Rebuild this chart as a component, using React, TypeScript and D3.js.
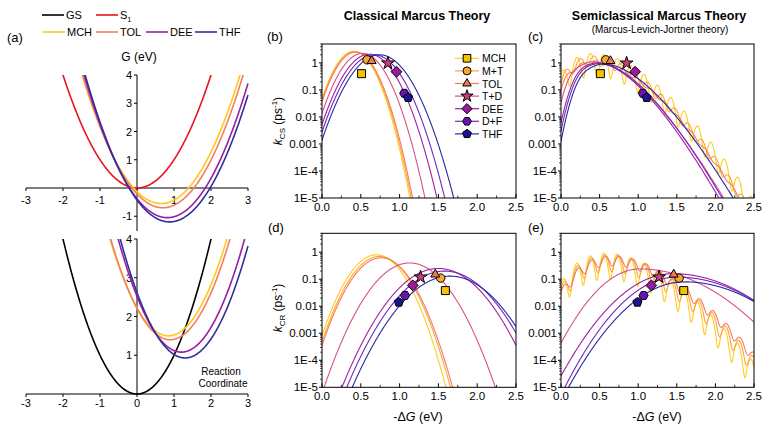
import React from 'react';
import * as d3 from 'd3';

const FONT = 'Arial, "Liberation Sans", Helvetica, sans-serif';

// ---- series shared by panels (b)-(e)
const solvents = ['MCH', 'M+T', 'TOL', 'T+D', 'DEE', 'D+F', 'THF'];
const lineColors = ['#FFCC22', '#FFA43A', '#F47C5C', '#D9508C', '#A0209E', '#7028C0', '#2828A0'];
const markerFills = ['#F5C400', '#F8A830', '#F07A50', '#C8407A', '#9B1AA0', '#6A14B0', '#1A1490'];
const markerShapes = ['square', 'circle', 'triangle', 'star', 'diamond', 'hexagon', 'pentagon'];

// experimental rates (-dG in eV, k in ps^-1)
const csX = [0.51, 0.58, 0.64, 0.85, 0.96, 1.06, 1.11];
const csK = [0.40, 1.30, 1.18, 0.98, 0.47, 0.075, 0.052];
const crX = [1.59, 1.53, 1.46, 1.27, 1.17, 1.07, 0.99];
const crK = [0.038, 0.11, 0.15, 0.12, 0.059, 0.025, 0.014];

// classical Marcus: reorganisation energy and peak rate
const kT = 0.0254;
const csLambda = [0.41, 0.42, 0.43, 0.52, 0.61, 0.67, 0.74];
const csPeak = [2.7, 2.6, 2.5, 2.25, 2.1, 2.0, 2.0];
const crLambda = [0.70, 0.74, 0.76, 1.13, 1.50, 1.58, 1.65];
const crPeak = [0.80, 0.70, 0.62, 0.40, 0.25, 0.20, 0.13];

// semiclassical (MLJ) CS: solvent lambda, gaussian width, Huang-Rhys S, peak rate
const hw = 0.173;
const mljCsLambda = [0.035, 0.08, 0.11, 0.21, 0.30, 0.32, 0.34];
const mljCsSigma = [0.038, 0.05, 0.065, 0.09, 0.10, 0.10, 0.10];
const mljCsS = [2.8, 2.5, 2.4, 1.7, 1.4, 1.45, 1.7];
const mljCsPeak = [2.2, 1.8, 1.2, 1.1, 1.0, 0.95, 0.9];

// semiclassical CR, vibronic curves (MCH, M+T, TOL)
const mljCrLambda = [0.035, 0.05, 0.06];
const mljCrSigma = [0.036, 0.042, 0.05];
const mljCrS = [3.7, 3.85, 4.0];
const mljCrPeak = [0.9, 0.8, 0.7];
// semiclassical CR, smooth curves (T+D, DEE, D+F, THF): peak position, peak rate, log-curvature left/right
const smoothCrX0 = [1.02, 1.45, 1.50, 1.60];
const smoothCrPeak = [0.24, 0.16, 0.12, 0.08];
const smoothCrWL = [2.64, 1.8, 1.94, 1.73];
const smoothCrWR = [0.9, 0.9, 0.87, 0.9];

const xTicks = [0, 0.5, 1.0, 1.5, 2.0, 2.5];
const yTicks = [1e-5, 1e-4, 1e-3, 1e-2, 1e-1, 1];
const yTickLabels = ['1E-5', '1E-4', '0.001', '0.01', '0.1', '1'];

// ---- panel (a)
const pesNames = ['MCH', 'TOL', 'DEE', 'THF'];
const pesColors = ['#FFC820', '#F47E60', '#9A1FA0', '#3030A0'];
const csMinX = [0.65, 0.70, 0.82, 0.88];
const csMinG = [-0.55, -0.70, -1.05, -1.20];
const crMinX = [0.85, 0.90, 1.20, 1.30];
const crMinG = [1.50, 1.40, 1.08, 0.93];
const pesTicksX = [-3, -2, -1, 0, 1, 2, 3];

const gridX = d3.range(0, 2.5001, 0.002);

function band(lam: number, sig: number, S: number) {
  return (x: number) => {
    let p = Math.exp(-S);
    let sum = 0;
    for (let n = 0; n < 40; n++) {
      const d = lam + n * hw - x;
      sum += p * Math.exp(-(d * d) / (2 * sig * sig));
      p *= S / (n + 1);
    }
    return sum;
  };
}

function rateCurve(lam: number, sig: number, S: number, peak: number): [number, number][] {
  const f = band(lam, sig, S);
  const ys = gridX.map(f);
  const m = d3.max(ys) as number;
  return gridX.map((x, i) => [x, Math.max((peak * ys[i]) / m, 1e-8)]);
}

function smoothCurve(x0: number, peak: number, wl: number, wr: number): [number, number][] {
  return gridX.map((x) => {
    const w = x < x0 ? wl : wr;
    return [x, Math.max(peak * Math.pow(10, -w * (x - x0) * (x - x0)), 1e-8)];
  });
}

function polygon(n: number, r: number, rot: number) {
  const pts = d3.range(n).map((i) => {
    const a = ((rot + (i * 360) / n) * Math.PI) / 180;
    return [r * Math.cos(a), r * Math.sin(a)] as [number, number];
  });
  return d3.line()(pts) + 'Z';
}

function symbolPath(shape: string, r: number) {
  switch (shape) {
    case 'square':
      return `M${-r},${-r}H${r}V${r}H${-r}Z`;
    case 'circle':
      return d3.symbol(d3.symbolCircle, Math.PI * r * r * 1.1)() as string;
    case 'triangle':
      return polygon(3, r * 1.3, -90);
    case 'star':
      return d3.symbol(d3.symbolStar, r * r * 3.2)() as string;
    case 'diamond':
      return polygon(4, r * 1.35, -90);
    case 'hexagon':
      return polygon(6, r * 1.15, 0);
    default:
      return polygon(5, r * 1.2, -90);
  }
}

interface Curve {
  pts: [number, number][];
  color: string;
}

interface RateProps {
  left: number;
  right: number;
  top: number;
  bottom: number;
  curves: Curve[];
  px: number[];
  pk: number[];
  id: string;
  legend?: boolean;
}

function RatePanel({ left, right, top, bottom, curves, px, pk, id, legend }: RateProps) {
  const x = d3.scaleLinear().domain([0, 2.5]).range([left, right]);
  const y = d3.scaleLog().domain([1e-5, 5]).range([bottom, top]);
  const line = d3
    .line<[number, number]>()
    .x((d) => x(d[0]))
    .y((d) => Math.min(y(d[1]), bottom + 40));
  const minorY: number[] = [];
  yTicks.forEach((d) => {
    for (let m = 2; m <= 9; m++) if (d * m <= 5) minorY.push(d * m);
  });
  const minorX = d3.range(0.25, 2.5, 0.5);
  return (
    <g fontFamily={FONT}>
      <defs>
        <clipPath id={id}>
          <rect x={left} y={top} width={right - left} height={bottom - top} />
        </clipPath>
      </defs>
      <g clipPath={`url(#${id})`}>
        {curves.map((c, i) => (
          <path key={i} d={line(c.pts) as string} fill="none" stroke={c.color} strokeWidth={1.1} />
        ))}
      </g>
      <rect x={left} y={top} width={right - left} height={bottom - top} fill="none" stroke="#000" strokeWidth={1} />
      {yTicks.map((t, i) => (
        <g key={t}>
          <line x1={left - 3} x2={left} y1={y(t)} y2={y(t)} stroke="#000" />
          <text x={left - 4} y={y(t) + 4} textAnchor="end" fontSize={11.5}>
            {yTickLabels[i]}
          </text>
        </g>
      ))}
      {minorY.map((t) => (
        <line key={t} x1={left - 1.8} x2={left} y1={y(t)} y2={y(t)} stroke="#000" strokeWidth={0.8} />
      ))}
      {xTicks.map((t) => (
        <g key={t}>
          <line x1={x(t)} x2={x(t)} y1={bottom} y2={bottom - 4} stroke="#000" />
          <text x={x(t)} y={bottom + 13} textAnchor="middle" fontSize={11.5}>
            {t.toFixed(1)}
          </text>
        </g>
      ))}
      {minorX.map((t) => (
        <line key={t} x1={x(t)} x2={x(t)} y1={bottom} y2={bottom - 2.5} stroke="#000" strokeWidth={0.8} />
      ))}
      {px.map((v, i) => (
        <path
          key={i}
          transform={`translate(${x(v)},${y(pk[i])})`}
          d={symbolPath(markerShapes[i], 4)}
          fill={markerFills[i]}
          stroke="#000"
          strokeWidth={1}
        />
      ))}
      {legend &&
        solvents.map((s, i) => {
          const ly = 58.3 + i * 12.6;
          return (
            <g key={s}>
              <line x1={455} x2={479} y1={ly} y2={ly} stroke={lineColors[i]} strokeWidth={1.2} />
              <path transform={`translate(467,${ly})`} d={symbolPath(markerShapes[i], 3.8)} fill={markerFills[i]} stroke="#000" />
              <text x={482} y={ly + 4} fontSize={10.5}>
                {s}
              </text>
            </g>
          );
        })}
    </g>
  );
}

function PesPanel() {
  const x = d3.scaleLinear().domain([-3, 3]).range([26, 248]);
  const yT = d3.scaleLinear().domain([0, 4]).range([188, 75]);
  const yB = d3.scaleLinear().domain([0, 4]).range([394, 239]);
  const gx = d3.range(-3, 3.0001, 0.01);
  const para = (d: number, m: number) => gx.map((v) => [v, (v - d) * (v - d) + m] as [number, number]);
  const lineT = d3.line<[number, number]>().x((d) => x(d[0])).y((d) => yT(Math.min(d[1], 4.3)));
  const lineB = d3.line<[number, number]>().x((d) => x(d[0])).y((d) => yB(Math.min(d[1], 4.3)));
  const legendRows = [
    { name: 'GS', color: '#000', x: 42, y: 15 },
    { name: 'S', color: '#E8141C', x: 96, y: 15, sub: '1' },
    ...pesNames.map((n, i) => ({ name: n, color: pesColors[i], x: [43, 96, 146, 195][i], y: 32 })),
  ];
  return (
    <g fontFamily={FONT}>
      <defs>
        <clipPath id="clipA1">
          <rect x={20} y={75} width={235} height={160} />
        </clipPath>
        <clipPath id="clipA2">
          <rect x={20} y={239} width={235} height={160} />
        </clipPath>
      </defs>
      {legendRows.map((r) => (
        <g key={r.name}>
          <line x1={r.x} x2={r.x + 22} y1={r.y} y2={r.y} stroke={r.color} strokeWidth={1.6} />
          <text x={r.x + 24} y={r.y + 4} fontSize={11}>
            {r.name}
            {r.sub && (
              <tspan fontSize={7.5} dy={3}>
                {r.sub}
              </tspan>
            )}
          </text>
        </g>
      ))}
      <text x={7} y={42} fontSize={13}>
        (a)
      </text>
      <text x={139} y={61} fontSize={12} textAnchor="middle">
        G (eV)
      </text>
      {/* top: S1 and CS states */}
      <line x1={x(-3)} x2={x(3)} y1={yT(0)} y2={yT(0)} stroke="#000" />
      <line x1={x(0)} x2={x(0)} y1={yT(4)} y2={yT(-1.52)} stroke="#000" />
      {pesTicksX.map((t) => (
        <g key={t}>
          <line x1={x(t)} x2={x(t)} y1={yT(0)} y2={yT(0) + 3} stroke="#000" />
          {t !== 0 && (
            <text x={x(t)} y={204} textAnchor="middle" fontSize={11}>
              {t}
            </text>
          )}
        </g>
      ))}
      {[4, 3, 2, 1, -1].map((t) => (
        <g key={t}>
          <line x1={x(0) - 3} x2={x(0)} y1={yT(t)} y2={yT(t)} stroke="#000" />
          <text x={x(0) - 5} y={yT(t) + 4} textAnchor="end" fontSize={11}>
            {t}
          </text>
        </g>
      ))}
      <g clipPath="url(#clipA1)" fill="none" strokeWidth={1.6}>
        <path d={lineT(para(0, 0)) as string} stroke="#E8141C" />
        {pesNames.map((n, i) => (
          <path key={n} d={lineT(para(csMinX[i], csMinG[i])) as string} stroke={pesColors[i]} />
        ))}
      </g>
      {/* bottom: GS and CR states */}
      <line x1={x(-3)} x2={x(3)} y1={yB(0)} y2={yB(0)} stroke="#000" />
      <line x1={x(0)} x2={x(0)} y1={yB(4)} y2={yB(0)} stroke="#000" />
      {pesTicksX.map((t) => (
        <g key={t}>
          <line x1={x(t)} x2={x(t)} y1={yB(0)} y2={yB(0) + 3} stroke="#000" />
          <text x={x(t)} y={407} textAnchor="middle" fontSize={11}>
            {t}
          </text>
        </g>
      ))}
      {[4, 3, 2, 1].map((t) => (
        <g key={t}>
          <line x1={x(0) - 3} x2={x(0)} y1={yB(t)} y2={yB(t)} stroke="#000" />
          <text x={x(0) - 5} y={yB(t) + 4} textAnchor="end" fontSize={11}>
            {t}
          </text>
        </g>
      ))}
      <g clipPath="url(#clipA2)" fill="none" strokeWidth={1.6}>
        <path d={lineB(para(0, 0)) as string} stroke="#000" />
        {pesNames.map((n, i) => (
          <path key={n} d={lineB(para(crMinX[i], crMinG[i])) as string} stroke={pesColors[i]} />
        ))}
      </g>
      <text x={221} y={375} textAnchor="middle" fontSize={10}>
        Reaction
      </text>
      <text x={223} y={387} textAnchor="middle" fontSize={10}>
        Coordinate
      </text>
    </g>
  );
}

function YLabel({ cx, cy, sub }: { cx: number; cy: number; sub: string }) {
  return (
    <text transform={`translate(${cx},${cy}) rotate(-90)`} textAnchor="middle" fontSize={12} fontFamily={FONT}>
      <tspan fontStyle="italic">k</tspan>
      <tspan fontSize={8} dy={3}>
        {sub}
      </tspan>
      <tspan dy={-3}> (ps</tspan>
      <tspan fontSize={8} dy={-5}>
        -1
      </tspan>
      <tspan dy={5}>)</tspan>
    </text>
  );
}

function XLabel({ cx, cy }: { cx: number; cy: number }) {
  return (
    <text x={cx} y={cy} textAnchor="middle" fontSize={12.5} fontFamily={FONT}>
      -Δ<tspan fontStyle="italic">G</tspan> (eV)
    </text>
  );
}

export default function App() {
  const classicalCs = solvents.map((_, i) => ({
    pts: rateCurve(csLambda[i], Math.sqrt(2 * csLambda[i] * kT), 0, csPeak[i]),
    color: lineColors[i],
  }));
  const classicalCr = solvents.map((_, i) => ({
    pts: rateCurve(crLambda[i], Math.sqrt(2 * crLambda[i] * kT), 0, crPeak[i]),
    color: lineColors[i],
  }));
  const mljCs = solvents.map((_, i) => ({
    pts: rateCurve(mljCsLambda[i], mljCsSigma[i], mljCsS[i], mljCsPeak[i]),
    color: lineColors[i],
  }));
  const mljCr = [
    ...mljCrLambda.map((_, i) => ({
      pts: rateCurve(mljCrLambda[i], mljCrSigma[i], mljCrS[i], mljCrPeak[i]),
      color: lineColors[i],
    })),
    ...smoothCrX0.map((_, i) => ({
      pts: smoothCurve(smoothCrX0[i], smoothCrPeak[i], smoothCrWL[i], smoothCrWR[i]),
      color: lineColors[i + 3],
    })),
  ];
  return (
    <svg width={780} height={447} style={{ position: 'absolute', left: 0, top: 0, background: '#fff' }}>
      <rect width={780} height={447} fill="#fff" />
      <PesPanel />
      <g fontFamily={FONT}>
        <text x={417} y={20} textAnchor="middle" fontSize={12.5} fontWeight="bold">
          Classical Marcus Theory
        </text>
        <text x={659} y={20} textAnchor="middle" fontSize={12.5} fontWeight="bold">
          Semiclassical Marcus Theory
        </text>
        <text x={660} y={33} textAnchor="middle" fontSize={10}>
          (Marcus-Levich-Jortner theory)
        </text>
        <text x={267} y={41} fontSize={13}>(b)</text>
        <text x={528} y={41} fontSize={13}>(c)</text>
        <text x={268} y={232} fontSize={13}>(d)</text>
        <text x={528} y={232} fontSize={13}>(e)</text>
      </g>
      <RatePanel left={322} right={516} top={44} bottom={198} curves={classicalCs} px={csX} pk={csK} id="clipB" legend />
      <RatePanel left={561} right={754} top={44} bottom={198} curves={mljCs} px={csX} pk={csK} id="clipC" />
      <RatePanel left={322} right={516} top={233.3} bottom={387.3} curves={classicalCr} px={crX} pk={crK} id="clipD" />
      <RatePanel left={561} right={754} top={233.3} bottom={387.3} curves={mljCr} px={crX} pk={crK} id="clipE" />
      <YLabel cx={282} cy={121} sub="CS" />
      <YLabel cx={282} cy={308} sub="CR" />
      <XLabel cx={418} cy={421} />
      <XLabel cx={657} cy={421} />
    </svg>
  );
}
